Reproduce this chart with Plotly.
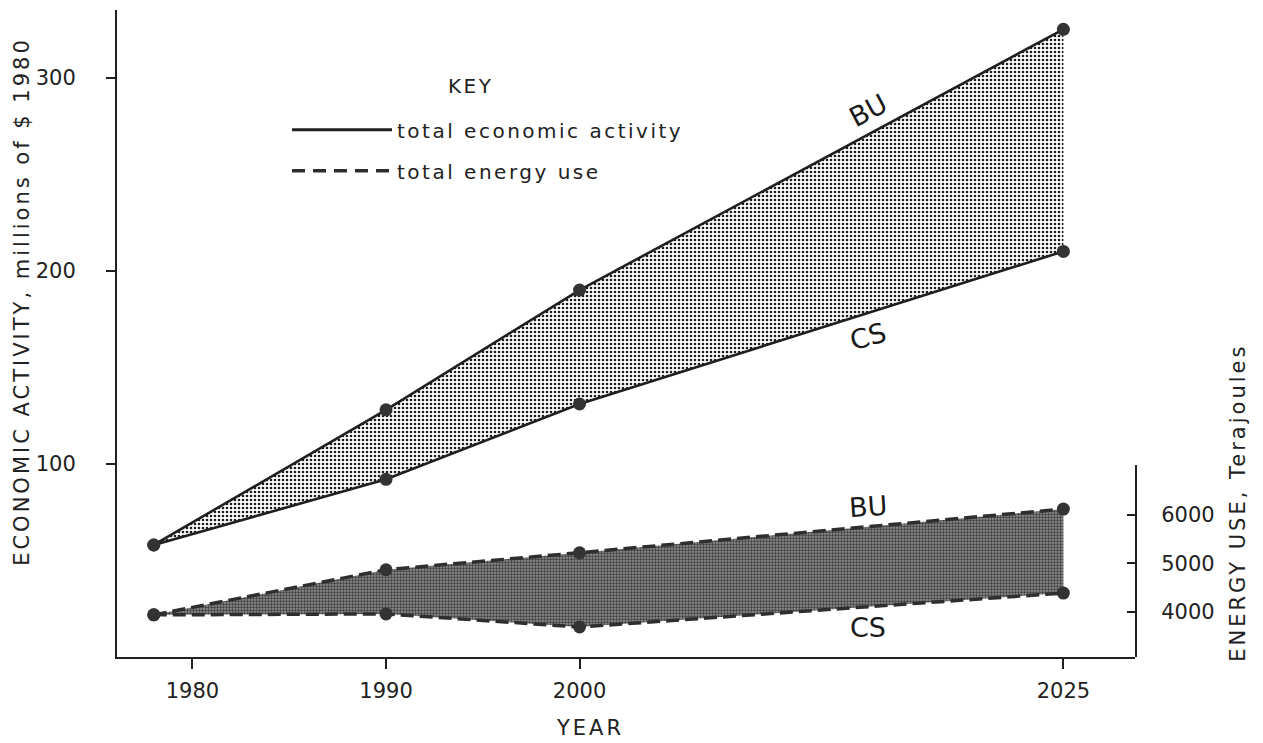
import plotly.graph_objects as go

# Scenario values: BU and CS projections
years = [1978, 1990, 2000, 2025]
econ_bu = [58, 128, 190, 325]      # economic activity, millions of $ 1980
econ_cs = [58, 92, 131, 210]
energy_bu = [3940, 4870, 5220, 6120]  # energy use, terajoules
energy_cs = [3940, 3960, 3690, 4390]

x_ticks = [1980, 1990, 2000, 2025]
econ_ticks = [100, 200, 300]
energy_ticks = [4000, 5000, 6000]

FONT = "DejaVu Sans"
INK = "#1f1f1f"
MARK = "#333333"


def spaced(text, px=3):
    """Wrap text in a span with extra letter spacing."""
    return f'<span style="letter-spacing:{px}px">{text}</span>'


fig = go.Figure()

# Economic activity band (dotted fill between CS and BU)
fig.add_trace(go.Scatter(
    x=years, y=econ_cs, mode="lines+markers", showlegend=False,
    line=dict(color=INK, width=2.6), marker=dict(size=13, color=MARK),
    yaxis="y", hoverinfo="skip"))
fig.add_trace(go.Scatter(
    x=years, y=econ_bu, mode="lines+markers", showlegend=False,
    fill="tonexty",
    fillpattern=dict(shape=".", size=4, solidity=0.33, fgcolor="#1a1a1a",
                     bgcolor="white", fillmode="replace"),
    line=dict(color=INK, width=2.6), marker=dict(size=13, color=MARK),
    yaxis="y", hoverinfo="skip"))

# Energy use band (dense grey fill between dashed CS and BU)
fig.add_trace(go.Scatter(
    x=years, y=energy_cs, mode="lines+markers", showlegend=False,
    line=dict(color="#2e2e2e", width=3.5, dash="13px,6px"),
    marker=dict(size=13, color=MARK),
    xaxis="x", yaxis="y2", hoverinfo="skip"))
fig.add_trace(go.Scatter(
    x=years, y=energy_bu, mode="lines+markers", showlegend=False,
    fill="tonexty",
    fillpattern=dict(shape=".", size=3, solidity=0.55, fgcolor="#3c3c3c",
                     bgcolor="#9c9c9c", fillmode="replace"),
    line=dict(color="#2e2e2e", width=3.5, dash="13px,6px"),
    marker=dict(size=13, color=MARK),
    xaxis="x", yaxis="y2", hoverinfo="skip"))

# Key entries
fig.add_trace(go.Scatter(
    x=[None], y=[None], mode="lines", name=spaced("total economic activity", 2.5),
    legendgroup="a", line=dict(color=INK, width=3)))
fig.add_trace(go.Scatter(
    x=[None], y=[None], mode="lines", name=spaced("total energy use", 2.5),
    legendgroup="b", line=dict(color="#2e2e2e", width=3.5, dash="13px,8px")))

axis_common = dict(
    showline=True, linecolor=INK, linewidth=2, showgrid=False, zeroline=False,
    tickcolor=INK, tickwidth=1.5, tickfont=dict(family=FONT, size=21, color="#222"),
)

fig.update_layout(
    width=1263, height=743,
    margin=dict(l=117, r=128, t=10, b=86),
    paper_bgcolor="white", plot_bgcolor="rgba(0,0,0,0)",
    font=dict(family=FONT, color="#222"),
    xaxis=dict(range=[1976.1, 2028.7], tickvals=x_ticks, ticks="outside",
               ticklen=10, ticklabelstandoff=4, anchor="y", **axis_common),
    yaxis=dict(range=[0, 335], tickvals=econ_ticks, ticks="outside",
               ticklen=9, ticklabelstandoff=26, **axis_common),
    yaxis2=dict(domain=[0, 0.297], range=[3072, 7031], tickvals=energy_ticks,
                anchor="x", side="right", ticks="inside", ticklen=8,
                ticklabelstandoff=20, **axis_common),
    legend=dict(
        x=0.167, y=0.845, xanchor="left", yanchor="top",
        font=dict(family=FONT, size=20, color="#222"),
        itemwidth=100, tracegroupgap=12, bgcolor="rgba(0,0,0,0)",
    ),
    showlegend=True,
)

fig.add_annotation(x=0.347, y=0.8825, xref="paper", yref="paper",
                   text=spaced("KEY", 2.5), showarrow=False,
                   xanchor="center", yanchor="middle",
                   font=dict(family=FONT, size=20, color="#222"))

label_font = dict(family=FONT, size=27, color="#1a1a1a")
fig.add_annotation(x=2014.9, y=283, xref="x", yref="y", text="BU",
                   showarrow=False, textangle=-28, font=label_font)
fig.add_annotation(x=2014.9, y=166, xref="x", yref="y", text="CS",
                   showarrow=False, textangle=-16, font=label_font)
fig.add_annotation(x=2014.9, y=6165, xref="x", yref="y2", text="BU",
                   showarrow=False, textangle=-4, font=label_font)
fig.add_annotation(x=2014.9, y=3690, xref="x", yref="y2", text="CS",
                   showarrow=False, font=label_font)

title_font = dict(family=FONT, size=21, color="#222")
fig.add_annotation(x=-0.0933, y=0.549, xref="paper", yref="paper",
                   text=spaced("ECONOMIC ACTIVITY, millions of $ 1980"),
                   textangle=-90, xanchor="center", yanchor="middle",
                   showarrow=False, font=title_font)
fig.add_annotation(x=1.101, y=0.238, xref="paper", yref="paper",
                   text=spaced("ENERGY USE, Terajoules"), textangle=-90,
                   xanchor="center", yanchor="middle",
                   showarrow=False, font=title_font)
fig.add_annotation(x=0.4646, y=-0.110, xref="paper", yref="paper",
                   text=spaced("YEAR"), xanchor="center", yanchor="middle",
                   showarrow=False, font=title_font)

fig.write_html("out.html")
